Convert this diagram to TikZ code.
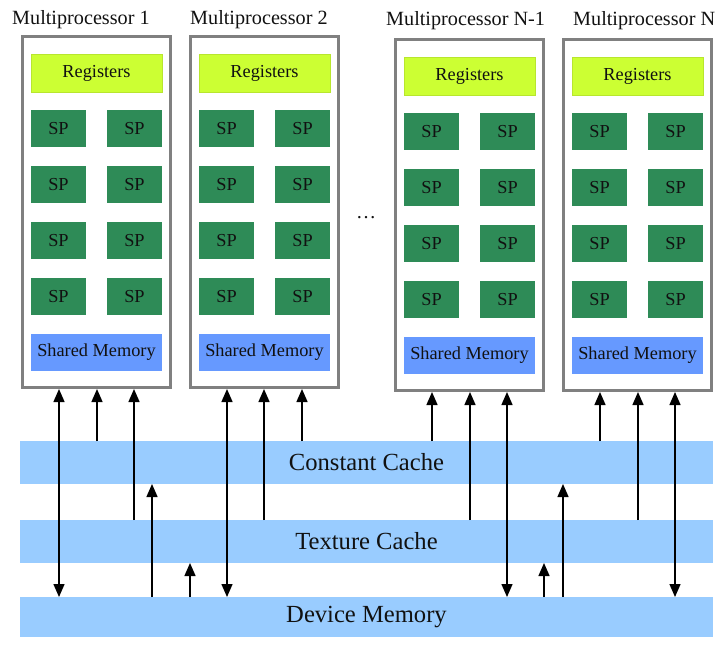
\documentclass[tikz,border=0pt]{standalone}
\usepackage{fontspec}
\setmainfont{Liberation Serif}
\usetikzlibrary{arrows.meta}
\definecolor{regc}{HTML}{CCFF33}
\definecolor{regb}{HTML}{B8E62E}
\definecolor{spc}{HTML}{2E8B57}
\definecolor{smc}{HTML}{6699FF}
\definecolor{cachec}{HTML}{99CCFF}
\definecolor{boxb}{HTML}{808080}
\definecolor{txt}{HTML}{111111}
\tikzset{
  mpbox/.style={draw=boxb, line width=3pt, fill=white, minimum width=148pt, minimum height=351pt, inner sep=0pt},
  regbox/.style={fill=regc, draw=regb, line width=0.5pt, minimum width=131pt, minimum height=38pt, inner sep=0pt, text=txt, font=\fontsize{18.3}{20}\selectfont},
  spbox/.style={fill=spc, minimum width=55pt, minimum height=37pt, inner sep=0pt, text=txt, font=\fontsize{18.3}{20}\selectfont},
  smbox/.style={fill=smc, minimum width=131pt, minimum height=37pt, inner sep=0pt, text=txt, font=\fontsize{18.3}{20}\selectfont},
  cachebar/.style={fill=cachec, minimum width=693pt, minimum height=43pt, inner sep=0pt, outer sep=0pt, text=txt, font=\fontsize{24.6}{28}\selectfont},
  heading/.style={anchor=base west, inner sep=0pt, text=txt, font=\fontsize{20.2}{24}\selectfont},
  tip/.style={},
  conn/.style={line width=1.4pt, -{Triangle[length=13pt,width=11pt]}},
  dconn/.style={line width=1.4pt, {Triangle[length=13pt,width=11pt]}-{Triangle[length=13pt,width=11pt]}},
}
\begin{document}
\begin{tikzpicture}[x=1pt,y=-1pt]
\useasboundingbox (0,0) rectangle (725,646);
% caches
\node[cachebar] (cc) at (366.5,462.5) {Constant Cache};
\node[cachebar] (tc) at (366.5,541.5) {Texture Cache};
\node[cachebar, minimum height=40pt] (dm) at (366.5,617) {Device Memory};
% multiprocessors
\foreach \n/\L/\dy in {1/21/0, 2/189/0, 3/394/3, 4/562/3}{
  \node[mpbox] (mp\n) at (\L+75.5,212+\dy) {};
  \node[regbox] (reg\n) at (\L+75.5,73+\dy) {Registers};
  \foreach \k in {0,1,2,3}{
    \node[spbox] (spa\n\k) at (\L+37.5,128.5+56*\k+\dy) {SP};
    \node[spbox] (spb\n\k) at (\L+113.5,128.5+56*\k+\dy) {SP};
  }
  \node[smbox] (sm\n) at (\L+75.5,352.5+\dy) {Shared Memory};
}
\node[heading] (h1) at (12,24) {Multiprocessor 1};
\node[heading] (h2) at (190,24) {Multiprocessor 2};
\node[heading] (h3) at (386,25) {Multiprocessor N-1};
\node[heading] (h4) at (573,25) {Multiprocessor N};
\node[text=txt, font=\fontsize{20}{24}\selectfont] (dots) at (366,218) {\ldots};
% connectors box 1
\draw[dconn] (mp1.south -| 59,0) -- (dm.north -| 59,0);
\draw[conn] (cc.north -| 97,0) -- (mp1.south -| 97,0);
\draw[conn] (tc.north -| 134,0) -- (mp1.south -| 134,0);
\draw[conn] (dm.north -| 152,0) -- (cc.south -| 152,0);
\draw[conn] (dm.north -| 190,0) -- (tc.south -| 190,0);
% box 2
\draw[dconn] (mp2.south -| 227,0) -- (dm.north -| 227,0);
\draw[conn] (tc.north -| 264,0) -- (mp2.south -| 264,0);
\draw[conn] (cc.north -| 302,0) -- (mp2.south -| 302,0);
% box N-1
\draw[conn] (cc.north -| 432,0) -- (mp3.south -| 432,0);
\draw[conn] (tc.north -| 470,0) -- (mp3.south -| 470,0);
\draw[dconn] (mp3.south -| 507,0) -- (dm.north -| 507,0);
\draw[conn] (dm.north -| 544,0) -- (tc.south -| 544,0);
\draw[conn] (dm.north -| 563,0) -- (cc.south -| 563,0);
% box N
\draw[conn] (cc.north -| 600,0) -- (mp4.south -| 600,0);
\draw[conn] (tc.north -| 638,0) -- (mp4.south -| 638,0);
\draw[dconn] (mp4.south -| 675,0) -- (dm.north -| 675,0);
\end{tikzpicture}
\end{document}
